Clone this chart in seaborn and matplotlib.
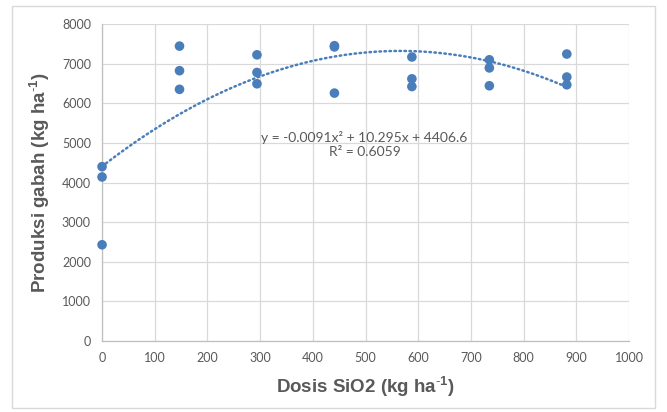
import matplotlib
matplotlib.use("Agg")
import matplotlib.pyplot as plt
import seaborn as sns
import numpy as np
import pandas as pd
from matplotlib.patches import Rectangle

# Data
dosis = [0, 0, 0,
         147, 147, 147,
         294, 294, 294,
         441, 441, 441,
         588, 588, 588,
         735, 735, 735,
         882, 882, 882]
produksi = [4400, 4140, 2430,
            7440, 6820, 6350,
            7220, 6775, 6490,
            7450, 7420, 6255,
            7165, 6615, 6420,
            7095, 6890, 6440,
            7240, 6660, 6465]
trend_coef = [-0.0091, 10.295, 4406.6]
r_squared = 0.6059
x_ticks = [0, 100, 200, 300, 400, 500, 600, 700, 800, 900, 1000]
y_ticks = [0, 1000, 2000, 3000, 4000, 5000, 6000, 7000, 8000]

df = pd.DataFrame({"dosis": dosis, "produksi": produksi})

sns.set_theme(style="white")
plt.rcParams['font.family'] = ['Lato', 'DejaVu Sans']
plt.rcParams['mathtext.fontset'] = 'custom'
plt.rcParams['mathtext.rm'] = 'Liberation Sans'
plt.rcParams['mathtext.bf'] = 'Liberation Sans:bold'
plt.rcParams['mathtext.it'] = 'Liberation Sans:italic'

fig = plt.figure(figsize=(6.67, 4.12), dpi=100)
ax = fig.add_axes([0.153, 0.172, 0.790, 0.770])

# Outer chart border
fig.patches.append(Rectangle((12/667, 1-408/412), (655-12)/667, (408-6)/412,
                             transform=fig.transFigure, fill=False,
                             edgecolor='#d9d9d9', linewidth=1.0))

blue = '#4a7ebb'
sns.scatterplot(data=df, x="dosis", y="produksi", ax=ax, color=blue,
                s=48, edgecolor='none', zorder=3, clip_on=False)

xs = np.linspace(min(dosis), max(dosis), 200)
ys = np.polyval(trend_coef, xs)
sns.lineplot(x=xs, y=ys, ax=ax, color=blue, linewidth=1.8,
             linestyle=(0, (0.6, 1.4)), dash_capstyle='round', zorder=2)

ax.set_xlim(0, 1000)
ax.set_ylim(0, 8000)
ax.set_xticks(x_ticks)
ax.set_yticks(y_ticks)
ax.grid(True, color='#d9d9d9', linewidth=0.9)
ax.set_axisbelow(True)
for s in ['top', 'right']:
    ax.spines[s].set_visible(False)
for s in ['left', 'bottom']:
    ax.spines[s].set_color('#bfbfbf')
    ax.spines[s].set_linewidth(0.9)
ax.tick_params(axis='both', which='both', length=0, labelsize=9,
               labelcolor='#595959', pad=8)

lab_font = dict(family=['Liberation Sans', 'DejaVu Sans'], fontsize=13.5,
                fontweight='bold', color='#595959')
ax.set_xlabel(r'Dosis SiO2 (kg ha$^{\mathbf{\text{-}1}}$)', labelpad=8, **lab_font)
ax.set_ylabel(r'Produksi gabah (kg ha$^{\mathbf{\text{-}1}}$)', labelpad=7, **lab_font)

eq = f"y = {trend_coef[0]}x² + {trend_coef[1]}x + {trend_coef[2]}\nR² = {r_squared}"
ax.text(498, 4950, eq, ha='center', va='center', fontsize=10,
        color='#595959', linespacing=1.2)

fig.savefig("out.png", dpi=100)
